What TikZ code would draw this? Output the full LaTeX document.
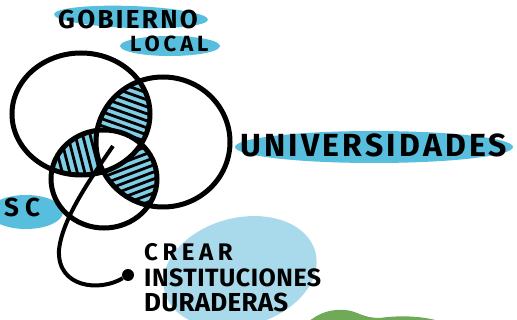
\documentclass[tikz,border=0pt]{standalone}
\usepackage{fontspec}
\setmainfont{Fira Sans}
\definecolor{marker}{RGB}{88,190,222}
\definecolor{hatchfill}{RGB}{128,205,230}
\definecolor{paleblue}{RGB}{168,218,236}
\definecolor{leaf}{RGB}{112,170,88}
\newcommand{\hand}[3]{{\fontsize{#1}{#1}\selectfont\bfseries\addfontfeature{LetterSpace=#2}#3}}
\newcommand{\ringA}{(gob) ellipse (69pt and 61pt)}
\newcommand{\ringB}{(uni) ellipse (67pt and 65pt)}
\newcommand{\ringC}{(sc) ellipse (53pt and 49pt)}

\begin{document}
\begin{tikzpicture}[x=1pt,y=-1pt]
    \tikzset{ring/.style={line width=5pt},
      hatch/.style={line width=2.8pt},
      tag/.style={inner sep=0pt,anchor=base west}}
\clip (0,0) rectangle (517,320);
\coordinate (gob) at (81,114);
\coordinate (uni) at (163,142);
\coordinate (sc) at (104,179);
\coordinate (hub) at (113,146);
% marker blobs
\fill[marker,rotate around={-2:(131,17)}] (131,17) ellipse (77pt and 11pt);
\fill[marker] (170,46) ellipse (50pt and 10pt);
\fill[marker] (374,147) ellipse (139pt and 16pt);
\fill[marker] (26,212) ellipse (37pt and 17pt);
\fill[paleblue,rotate around={15:(240,272)}] (240,272) ellipse (78pt and 54pt);
\fill[leaf] (308,322) .. controls (320,312) and (332,309) .. (345,310)
  .. controls (358,311) and (362,318) .. (380,318)
  .. controls (400,315) and (425,316) .. (442,322) -- cycle;
% lenses
\begin{scope}
  \clip \ringA; \clip \ringB;
  \fill[hatchfill] (60,60) rectangle (200,220);
  \foreach \i in {0,...,16}
    \draw[hatch] (80,62+7*\i) -- ++(90,32);
\end{scope}
\begin{scope}
  \clip \ringA; \clip \ringC;
  \fill[hatchfill] (30,100) rectangle (160,220);
  \foreach \i in {0,...,12}
    \draw[hatch] (25+7.5*\i,115) -- ++(18,70);
\end{scope}
\begin{scope}
  \clip \ringB; \clip \ringC;
  \fill[hatchfill] (80,100) rectangle (200,240);
  \foreach \i in {0,...,16}
    \draw[hatch] (90,140+7*\i) -- ++(90,-34);
\end{scope}
\begin{scope}
  \clip \ringA; \clip \ringB; \clip \ringC;
  \fill[white] (0,0) rectangle (300,300);
\end{scope}
\draw[ring] \ringA;
\draw[ring] \ringB;
\draw[ring] \ringC;
% connector
\node[circle,fill,inner sep=0pt,minimum size=12pt] (dot) at (128,275) {};
\draw[line width=4pt] (hub) .. controls (88,182) and (62,220) .. (59,250)
  .. controls (57,288) and (100,292) .. (dot);
% labels
\node[tag] (gobierno) at (58,29) {\hand{26}{9}{GOBIERNO}};
\node[tag] (local) at (130,52) {\hand{22}{18}{LOCAL}};
\node[tag] (universidades) at (240,157) {\hand{32}{10}{UNIVERSIDADES}};
\node[tag] (sclabel) at (4,217) {\hand{26}{23}{SC}};
\node[tag] (crear) at (144,261) {\hand{24}{19}{CREAR}};
\node[tag] (instituciones) at (144,287) {\hand{25}{2}{INSTITUCIONES}};
\node[tag] (duraderas) at (144,312) {\hand{26}{1}{DURADERAS}};
\end{tikzpicture}
\end{document}
